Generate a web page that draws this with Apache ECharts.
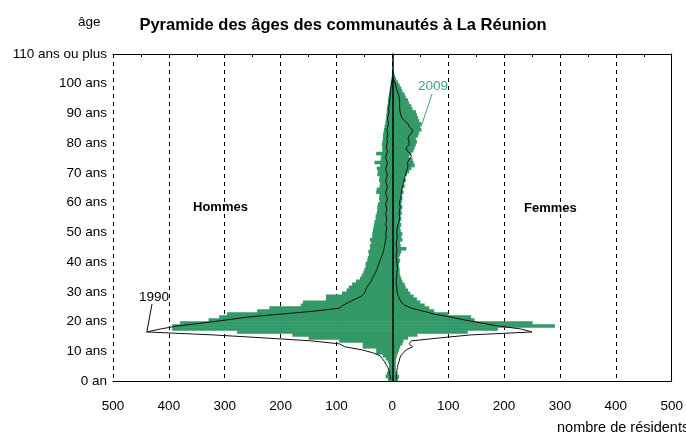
<!DOCTYPE html>
<html>
  <head>
    <meta charset="UTF-8" />
    <title>Pyramide des âges des communautés à La Réunion</title>
    <style>
      html,
      body {
        margin: 0;
        padding: 0;
        background: #fff;
      }
      #main {
        width: 686px;
        height: 434px;
      }
    </style>
  </head>
  <body>
    <div id="main"></div>
    <script src="https://cdn.jsdelivr.net/npm/echarts@6/dist/echarts.min.js"></script>
    <script>
      // ages 0 .. 109, one band per year
      const ages = Array.from({ length: 110 }, (_, i) => i)

      const yTickLabels = ['0 an', '10 ans', '20 ans', '30 ans', '40 ans', '50 ans',
        '60 ans', '70 ans', '80 ans', '90 ans', '100 ans', '110 ans ou plus']

      // 2009, number of residents by single year of age
      const men2009 = [
        8, 12, 10, 8, 6, 6, 8, 12, 17, 29,
        29, 53, 53, 95, 150, 179, 278, 394, 394, 380,
        329, 310, 296, 242, 220, 164, 160, 119, 119, 90,
        82, 78, 72, 65, 58, 55, 52, 50, 48, 48,
        45, 44, 42, 43, 40, 40, 38, 40, 36, 36,
        35, 34, 33, 32, 30, 30, 28, 27, 27, 26,
        23, 24, 23, 29, 28, 23, 22, 24, 23, 27,
        26, 28, 22, 32, 21, 20, 29, 18, 18, 19,
        18, 17, 17, 16, 15, 14, 13, 12, 11, 11,
        10, 10, 9, 8, 8, 7, 6, 5, 4, 3,
        3, 2, 1, 0, 0, 0, 0, 0, 0, 0
      ]
      const women2009 = [
        10, 12, 8, 6, 6, 6, 6, 7, 8, 10,
        12, 14, 18, 20, 28, 45, 135, 189, 291, 251,
        147, 141, 100, 75, 66, 58, 50, 44, 38, 32,
        28, 24, 22, 18, 16, 14, 13, 13, 12, 12,
        14, 12, 14, 16, 25, 15, 14, 18, 16, 18,
        15, 14, 16, 14, 16, 15, 17, 16, 18, 16,
        17, 18, 16, 20, 18, 22, 20, 24, 22, 26,
        30, 34, 40, 38, 36, 30, 34, 38, 40, 42,
        44, 42, 46, 48, 52, 50, 52, 48, 46, 44,
        42, 36, 34, 30, 28, 24, 22, 18, 16, 13,
        10, 7, 5, 3, 0, 0, 0, 0, 0, 0
      ]

      // 1990, same communities
      const men1990 = [
        3, 4, 5, 6, 8, 11, 14, 18, 22, 35,
        55, 85, 95, 145, 230, 320, 440, 415, 385, 340,
        298, 260, 200, 140, 95, 88, 78, 67, 56, 50,
        48, 46, 42, 38, 36, 33, 30, 28, 26, 24,
        22, 20, 18, 16, 15, 14, 13, 12, 11, 12,
        11, 10, 12, 11, 10, 11, 12, 10, 11, 12,
        10, 9, 11, 12, 10, 9, 11, 12, 10, 9,
        11, 12, 10, 9, 11, 12, 10, 9, 11, 10,
        9, 10, 8, 9, 10, 8, 7, 8, 9, 7,
        6, 7, 6, 5, 5, 4, 4, 3, 3, 2,
        1, 0, '-', '-', '-', '-', '-', '-', '-', '-'
      ]
      const women1990 = [
        7, 7, 8, 8, 9, 10, 12, 13, 15, 20,
        25, 36, 30, 34, 85, 140, 250, 230, 190, 160,
        130, 105, 75, 55, 34, 22, 16, 13, 11, 9,
        8, 8, 7, 7, 7, 8, 8, 9, 9, 8,
        8, 7, 7, 8, 8, 7, 7, 8, 9, 8,
        8, 9, 10, 12, 13, 13, 12, 13, 14, 13,
        13, 15, 16, 16, 17, 18, 20, 21, 22, 24,
        25, 27, 28, 27, 30, 34, 32, 26, 25, 30,
        30, 28, 30, 35, 36, 30, 28, 22, 17, 15,
        14, 13, 13, 13, 13, 12, 11, 9, 7, 6,
        4, 2, 0, '-', '-', '-', '-', '-', '-', '-'
      ]

      const font = "'Liberation Sans', Arial, sans-serif"
      const green = '#339966'

      const myChart = echarts.init(document.getElementById('main'))

      const option = {
        animation: false,
        textStyle: { fontFamily: font, color: '#000' },
        title: {
          text: 'Pyramide des âges des communautés à La Réunion',
          left: 'center',
          top: 12,
          textStyle: { fontSize: 16.5, fontWeight: 'bold', color: '#000', fontFamily: font }
        },
        grid: { left: 113, right: 13, top: 54, bottom: 53 },
        xAxis: [
          {
            type: 'value',
            min: -500,
            max: 500,
            interval: 100,
            position: 'bottom',
            axisLine: { onZero: false, lineStyle: { color: '#000' } },
            axisTick: { show: false },
            axisLabel: {
              formatter: (v) => Math.abs(v),
              color: '#000',
              fontSize: 13.5,
              fontFamily: font,
              margin: 18
            },
            splitLine: { show: true, lineStyle: { color: '#000', type: [4, 4] } }
          },
          {
            type: 'value',
            min: -500,
            max: 500,
            interval: 50,
            position: 'top',
            axisLine: { onZero: false, lineStyle: { color: '#000' } },
            axisTick: { show: true, inside: true, length: 3, lineStyle: { color: '#000' } },
            axisLabel: { show: false },
            splitLine: { show: false }
          }
        ],
        yAxis: [
          {
            type: 'category',
            data: ages,
            position: 'left',
            z: 10,
            axisLine: { onZero: true, onZeroAxisIndex: 0, lineStyle: { color: '#000', width: 1.5 } },
            axisTick: { interval: 0, length: 3, lineStyle: { color: '#000' } },
            axisLabel: { show: false }
          },
          {
            type: 'category',
            data: ages,
            position: 'right',
            z: 10,
            axisLine: { show: false, onZero: true, onZeroAxisIndex: 0 },
            axisTick: { interval: 0, length: 3, lineStyle: { color: '#000' } },
            axisLabel: { show: false }
          },
          {
            type: 'value',
            min: 0,
            max: 110,
            interval: 10,
            position: 'left',
            axisLine: { show: false, onZero: false },
            axisTick: { show: false },
            splitLine: { show: false },
            axisLabel: {
              formatter: (v) => yTickLabels[Math.round(v / 10)],
              color: '#000',
              fontSize: 13.5,
              fontFamily: font,
              margin: 6
            }
          },
          {
            type: 'value',
            min: 0,
            max: 110,
            position: 'right',
            axisLine: { show: true, onZero: false, lineStyle: { color: '#000' } },
            axisTick: { show: false },
            splitLine: { show: false },
            axisLabel: { show: false }
          }
        ],
        series: [
          {
            name: 'Hommes 2009',
            type: 'bar',
            stack: 'pop',
            barWidth: 3.6,
            data: men2009.map((v) => -v),
            itemStyle: { color: green },
            silent: true
          },
          {
            name: 'Femmes 2009',
            type: 'bar',
            stack: 'pop',
            barWidth: 3.6,
            data: women2009,
            itemStyle: { color: green },
            silent: true
          },
          {
            name: 'Hommes 1990',
            type: 'line',
            data: men1990.map((v) => (v === '-' ? '-' : -v)),
            symbol: 'none',
            lineStyle: { color: '#111', width: 1 },
            z: 4,
            silent: true
          },
          {
            name: 'Femmes 1990',
            type: 'line',
            data: women1990,
            symbol: 'none',
            lineStyle: { color: '#111', width: 1 },
            z: 4,
            silent: true
          }
        ],
        graphic: [
          { type: 'text', left: 78, top: 15, style: { text: 'âge', font: '13.5px ' + font, fill: '#000' } },
          { type: 'text', left: 193, top: 201, style: { text: 'Hommes', font: 'bold 13px ' + font, fill: '#000' } },
          { type: 'text', left: 524, top: 202, style: { text: 'Femmes', font: 'bold 13px ' + font, fill: '#000' } },
          { type: 'text', left: 139, top: 290, style: { text: '1990', font: '13.5px ' + font, fill: '#000' } },
          { type: 'line', shape: { x1: 152, y1: 304, x2: 147, y2: 331 }, style: { stroke: '#000', lineWidth: 1 } },
          { type: 'text', left: 418, top: 79, style: { text: '2009', font: '13.5px ' + font, fill: '#3fa873' } },
          { type: 'line', shape: { x1: 432, y1: 94, x2: 421, y2: 127 }, style: { stroke: '#3fa873', lineWidth: 1 } },
          { type: 'text', left: 557, top: 420, style: { text: 'nombre de résidents', font: '14.5px ' + font, fill: '#000' } }
        ]
      }

      myChart.setOption(option)
    </script>
  </body>
</html>
